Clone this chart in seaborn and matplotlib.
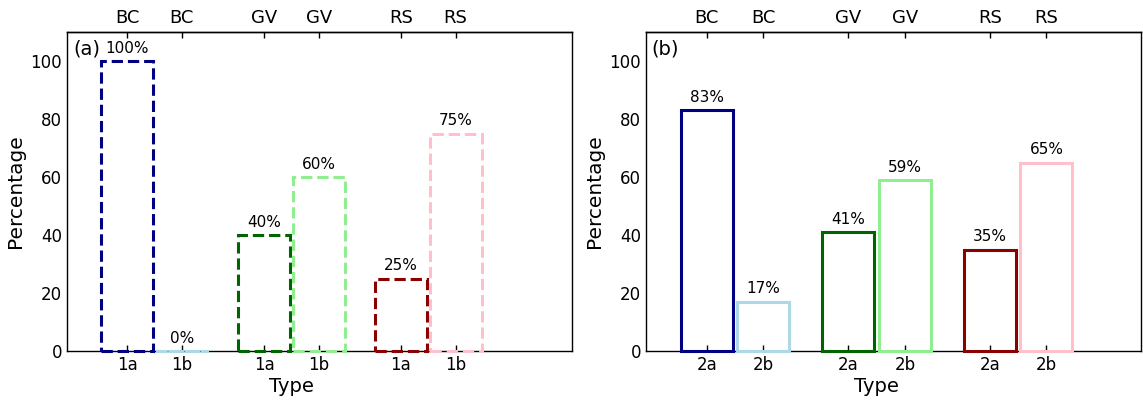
import numpy as np
import pandas as pd
import matplotlib
matplotlib.use('Agg')
import matplotlib.pyplot as plt
import seaborn as sns

# data
groups = ['BC', 'BC', 'GV', 'GV', 'RS', 'RS']
positions = [-0.2, 0.2, 0.8, 1.2, 1.8, 2.2]
types_a = ['1a', '1b', '1a', '1b', '1a', '1b']
types_b = ['2a', '2b', '2a', '2b', '2a', '2b']
pct_a = [100, 0, 40, 60, 25, 75]
pct_b = [83, 17, 41, 59, 35, 65]
colors = ['navy', 'lightblue', 'darkgreen', 'lightgreen', 'darkred', 'pink']

sns.set_style('white')
plt.rcParams['font.family'] = ['DejaVu Sans']
plt.rcParams['text.color'] = 'black'
plt.rcParams['axes.labelcolor'] = 'black'
plt.rcParams['axes.edgecolor'] = 'black'

fig = plt.figure(figsize=(11.43, 4.03), dpi=100)
ax_a = fig.add_axes([0.0586, 0.129, 0.4418, 0.7916])
ax_b = fig.add_axes([0.565, 0.129, 0.4335, 0.7916])


def draw_panel(ax, vals, types, tag, lstyle, width, xlim):
    df = pd.DataFrame({'pos': positions, 'pct': vals,
                       'key': [f'{g} {t} {i}' for i, (g, t) in enumerate(zip(groups, types))]})
    sns.barplot(data=df, x='pos', y='pct', hue='key', palette=colors,
                native_scale=True, dodge=False, fill=False, width=width,
                linewidth=2.2, linestyle=lstyle, legend=False, ax=ax)
    # bar outlines sit on top of the bottom spine
    for p in ax.patches:
        p.set_zorder(3)
        p.set_clip_on(False)
    for x, v in zip(positions, vals):
        ax.text(x, v + 1.8, f'{v}%', ha='center', va='bottom', fontsize=11)
    ax.set_xlim(*xlim)
    ax.set_ylim(0, 110)
    ax.set_yticks([0, 20, 40, 60, 80, 100])
    ax.set_xticks(positions)
    ax.set_xticklabels(types)
    ax.set_xlabel('Type', fontsize=14)
    # label sits under the middle group
    ax.xaxis.set_label_coords((1.0 - xlim[0]) / (xlim[1] - xlim[0]), -0.08)
    ax.set_ylabel('Percentage', fontsize=14.5)
    ax.tick_params(direction='in', labelsize=12, length=4, width=1, colors='black')
    ax.text(0.012, 0.975, tag, transform=ax.transAxes, ha='left', va='top', fontsize=14)
    top = ax.twiny()
    top.set_xlim(ax.get_xlim())
    top.set_xticks(positions)
    top.set_xticklabels(groups)
    top.tick_params(direction='in', labelsize=13, length=4, width=1, colors='black')
    for s in ['bottom', 'left', 'right']:
        top.spines[s].set_visible(False)
    for a in (ax, top):
        for s in a.spines.values():
            s.set_color('black')
            s.set_linewidth(1)


draw_panel(ax_a, pct_a, types_a, '(a)', '--', 0.95, (-0.64, 3.05))
draw_panel(ax_b, pct_b, types_b, '(b)', '-', 0.92, (-0.63, 2.87))

fig.savefig('out.png', dpi=100)
